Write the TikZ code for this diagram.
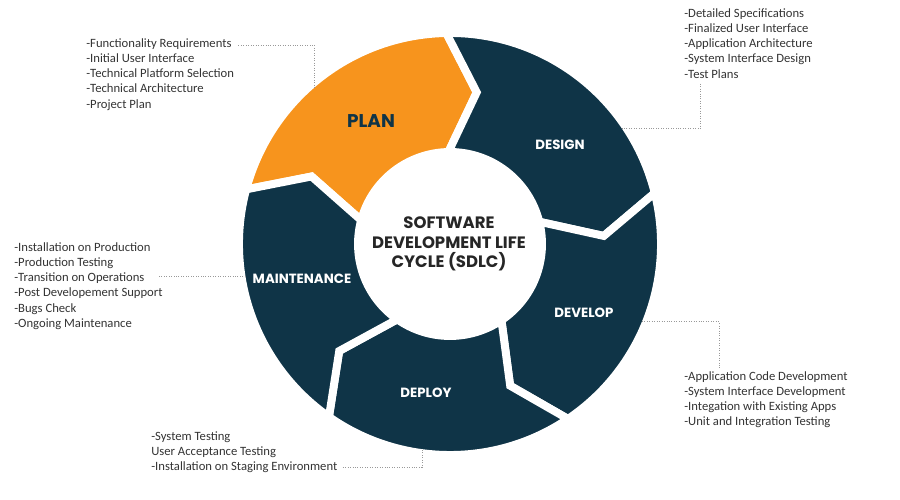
\documentclass[tikz,border=0pt]{standalone}
\usepackage{fontspec}
\setmainfont{Carlito}
\newfontfamily\headfont{Poppins}
\usetikzlibrary{positioning}
\definecolor{sdlcnavy}{HTML}{0F3447}
\definecolor{sdlcorange}{HTML}{F7941D}
\definecolor{listgray}{HTML}{333333}
\tikzset{%
  phase/.style={
    font=\headfont\bfseries\fontsize{7.6}{9}\selectfont,
    text=white,
    inner sep=0pt
  },
  task list/.style={
    align=left,
    inner sep=0pt,
    text=listgray,
    font=\fontsize{7.2}{8.7}\selectfont
  },
  leader/.style={densely dotted, draw=gray!80, line width=0.4pt},
}
% ring piece from angle #1 down to #2 (clockwise), tail notch and head tip
\newcommand\ringpiece[3]{%
  \filldraw[fill=#3, draw=white, line width=4.5pt, line join=miter]
    (#1:\Rout) arc[start angle=#1, end angle=#2, radius=\Rout]
    -- (#2-\tipang:\Rmid) -- (#2:\Rin)
    arc[start angle=#2, end angle=#1, radius=\Rin]
    -- (#1-\tipang:\Rmid) -- cycle;}

\begin{document}
\begin{tikzpicture}[x=0.02cm,y=0.02cm]
  \useasboundingbox (0,0) rectangle (900,500);
  \def\Rout{211} \def\Rin{92} \def\Rmid{154} \def\tipang{11}

  \begin{scope}[shift={(450,256)}]
    \ringpiece{165}{91}{sdlcorange}
    \ringpiece{91}{14}{sdlcnavy}
    \ringpiece{14}{-56}{sdlcnavy}
    \ringpiece{-56}{-125}{sdlcnavy}
    \ringpiece{-125}{-195}{sdlcnavy}

    \node[phase, text=sdlcnavy, font=\headfont\bfseries\fontsize{10.5}{12}\selectfont] (plan) at (-79,123) {PLAN};
    \node[phase] (design) at (110,99) {DESIGN};
    \node[phase] (develop) at (134,-69) {DEVELOP};
    \node[phase] (deploy) at (-24,-149) {DEPLOY};
    \node[phase] (maint) at (-148,-35) {MAINTENANCE};

    \node[align=center, text=black!85, font=\headfont\bfseries\fontsize{9.4}{11}\selectfont] (sdlc) at (-1,0)
      {SOFTWARE\\DEVELOPMENT LIFE\\CYCLE (SDLC)};

    \coordinate (rplan) at (131:207);
    \coordinate (rdesign) at (33.8:207);
    \coordinate (rdevelop) at (-22:207);
    \coordinate (rdeploy) at (-97.8:207);
    \coordinate (rmaint) at (189:207);
  \end{scope}

  \node[task list, anchor=north west] (lplan) at (86,462)
    {-Functionality Requirements\\-Initial User Interface\\-Technical Platform Selection\\-Technical Architecture\\-Project Plan};
  \node[task list, anchor=north west] (ldesign) at (684,492)
    {-Detailed Specifications\\-Finalized User Interface\\-Application Architecture\\-System Interface Design\\-Test Plans};
  \node[task list, anchor=north west] (lmaint) at (14,258)
    {-Installation on Production\\-Production Testing\\-Transition on Operations\\-Post Developement Support\\-Bugs Check\\-Ongoing Maintenance};
  \node[task list, anchor=north west] (ldevelop) at (684,129)
    {-Application Code Development\\-System Interface Development\\-Integation with Existing Apps\\-Unit and Integration Testing};
  \node[task list, anchor=north west] (ldeploy) at (151,69)
    {-System Testing\\User Acceptance Testing\\-Installation on Staging Environment};

  \draw[leader] ([shift={(4,-7)}]lplan.north east) -| (rplan);
  \draw[leader] ([shift={(16,-5)}]ldesign.south west) |- (rdesign);
  \draw[leader, shorten >=-3pt] (rmaint) -- (rmaint -| lmaint.east);
  \draw[leader] (rdevelop) -| ([shift={(35,3)}]ldevelop.north west);
  \draw[leader] ([shift={(5,6)}]ldeploy.south east) -| (rdeploy);
\end{tikzpicture}
\end{document}
